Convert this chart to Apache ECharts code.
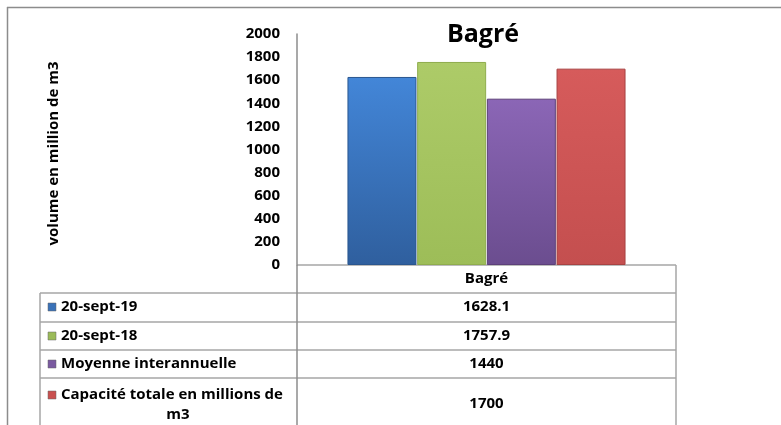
<!DOCTYPE html>
<html>
<head>
<meta charset="utf-8">
<script src="https://cdn.jsdelivr.net/npm/echarts@6/dist/echarts.min.js"></script>
<style>
html,body{margin:0;padding:0;background:#fff;}
#c{width:781px;height:425px;}
</style>
</head>
<body>
<div id="c"></div>
<script>
// ---- data ----
const categories = ['Bagré'];
const seriesNames = ['20-sept-19', '20-sept-18', 'Moyenne interannuelle', 'Capacité totale en millions de\nm3'];
const seriesValues = [[1628.1], [1757.9], [1440], [1700]];
const valueLabels = ['1628.1', '1757.9', '1440', '1700'];
const yTicks = [0, 200, 400, 600, 800, 1000, 1200, 1400, 1600, 1800, 2000];
const titleText = 'Bagré';
const yAxisName = 'volume en million de m3';

// ---- styles ----
const FONT = '"Open Sans", "Noto Sans", sans-serif';
const colorStops = [
  ['#4386d8', '#2f5f9e', '#2a568f'],
  ['#adcb68', '#9dbd58', '#8fad4d'],
  ['#8b66b6', '#6b4d8f', '#5c4079'],
  ['#d65b5b', '#c44f4f', '#a84242']
];
const legendColors = ['#3a72b8', '#9bbb59', '#7a5aa0', '#c9504f'];

const chart = echarts.init(document.getElementById('c'));

const GL = 297, GR = 676, GT = 34, GB = 265;
const rowY = [265, 293, 322, 350, 378, 430];
const TL = 40;
const lineCol = '#a6a6a6';

const graphics = [];
function hline(x1, x2, y, col) {
  graphics.push({type: 'line', silent: true, shape: {x1: x1, y1: y, x2: x2, y2: y}, style: {stroke: col || lineCol, lineWidth: 1.5}});
}
function vline(x, y1, y2, col) {
  graphics.push({type: 'line', silent: true, shape: {x1: x, y1: y1, x2: x, y2: y2}, style: {stroke: col || lineCol, lineWidth: 1.5}});
}
// outer border
hline(7, 781, 7.5, '#8c8c8c');
vline(7.5, 7, 425, '#8c8c8c');
// table
hline(GL, GR, rowY[0]);
for (let i = 1; i <= 4; i++) hline(TL, GR, rowY[i]);
vline(GR, rowY[0], 425);
vline(GL, rowY[0], 425, '#8c8c8c');
vline(TL, rowY[1], 425);
// header
const TF = 'bold 15px ' + FONT;
graphics.push({type: 'text', silent: true, style: {text: categories[0], x: (GL + GR) / 2, y: 279, align: 'center', verticalAlign: 'middle', font: TF, fill: '#000'}});
const rowCenters = [307, 336, 364, 404];
for (let i = 0; i < seriesNames.length; i++) {
  const yc = rowCenters[i];
  const lines = seriesNames[i].split('\n');
  const lh = 20;
  lines.forEach(function (ln, j) {
    const ly = (lines.length > 1) ? 395 + j * lh : yc;
    graphics.push({type: 'text', silent: true, style: {text: ln, x: j === 0 ? 61 : 178, y: ly, align: j === 0 ? 'left' : 'center', verticalAlign: 'middle', font: TF, fill: '#000'}});
    if (j === 0) {
      graphics.push({type: 'rect', silent: true, shape: {x: 48, y: ly - 4, width: 8, height: 8}, style: {fill: legendColors[i], stroke: '#666', lineWidth: 0.5}});
    }
  });
  graphics.push({type: 'text', silent: true, style: {text: valueLabels[i], x: (GL + GR) / 2, y: yc, align: 'center', verticalAlign: 'middle', font: TF, fill: '#000'}});
}

const series = seriesNames.map(function (n, i) {
  return {
    name: n,
    type: 'bar',
    barWidth: 69,
    barGap: '1%',
    data: seriesValues[i],
    itemStyle: {
      color: new echarts.graphic.LinearGradient(0, 0, 0, 1, [
        {offset: 0, color: colorStops[i][0]},
        {offset: 1, color: colorStops[i][1]}
      ]),
      borderColor: colorStops[i][2],
      borderWidth: 1
    }
  };
});

chart.setOption({
  animation: false,
  title: {text: titleText, left: 478, top: 17, textAlign: 'center', textStyle: {fontFamily: FONT, fontWeight: 'bold', fontSize: 25, color: '#000'}},
  grid: {left: GL, right: 781 - GR, top: GT, bottom: 425 - GB},
  xAxis: {type: 'category', data: categories, axisLine: {show: false}, axisTick: {show: false}, axisLabel: {show: false}},
  yAxis: {
    type: 'value', min: 0, max: 2000, interval: 200,
    name: yAxisName, nameLocation: 'middle', nameGap: 236, nameRotate: 90,
    nameTextStyle: {fontFamily: FONT, fontWeight: 'bold', fontSize: 15, color: '#000', padding: [0, 8, 0, 0]},
    axisLine: {show: true, lineStyle: {color: '#8c8c8c', width: 1.5}},
    axisTick: {show: false},
    splitLine: {show: false},
    axisLabel: {margin: 17, fontFamily: FONT, fontWeight: 'bold', fontSize: 15, color: '#000',
      formatter: function (v) { return yTicks.indexOf(v) >= 0 ? String(v) : ''; }}
  },
  series: series,
  graphic: graphics
});
</script>
</body>
</html>
